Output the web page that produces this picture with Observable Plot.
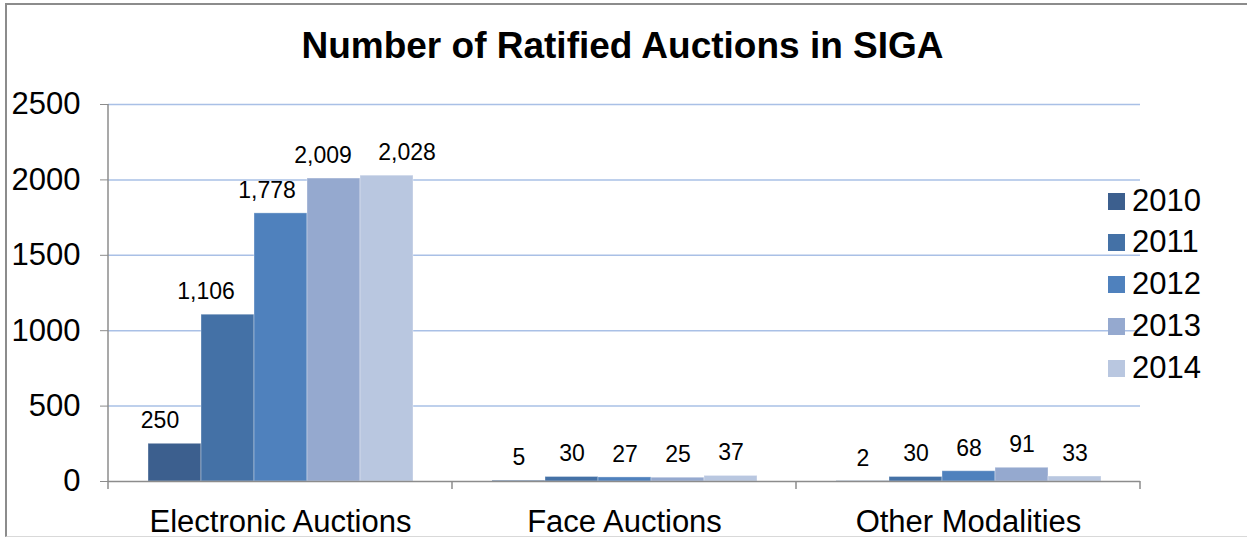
<!DOCTYPE html>
<html>
<head>
<meta charset="utf-8">
<script src="https://cdn.jsdelivr.net/npm/d3@7"></script>
<script src="https://cdn.jsdelivr.net/npm/@observablehq/plot@0.6"></script>
<style>
  html, body { margin: 0; padding: 0; background: #fff; }
  body { width: 1247px; height: 540px; overflow: hidden; position: relative; font-family: "Liberation Sans", Arial, sans-serif; }
  #frame { position: absolute; left: 5px; top: 3px; width: 1300px; height: 534px; border-left: 2px solid #8c8c8c; border-top: 2px solid #8c8c8c; border-bottom: 1px solid #d9d9d9; box-sizing: border-box; }
  #title { position: absolute; left: 0; top: 27px; width: 1245px; text-align: center; font-weight: bold; font-size: 37px; line-height: 37px; color: #000; }
  #chart { position: absolute; left: 0; top: 0; }
  #legend { position: absolute; left: 1108px; top: 0; }
  .item { position: absolute; left: 0; height: 34px; display: flex; align-items: center; white-space: nowrap; font-size: 31px; line-height: 34px; }
  .sw { width: 17px; height: 17px; margin-right: 7px; }
  [aria-label="y-axis tick"] { color: #8c8c8c; }
</style>
</head>
<body>
<div id="frame"></div>
<div id="chart"></div>
<div id="title">Number of Ratified Auctions in SIGA</div>
<div id="legend"></div>
<script>
const categories = ["Electronic Auctions", "Face Auctions", "Other Modalities"];
const years = ["2010", "2011", "2012", "2013", "2014"];
const electronicAuctions = [250, 1106, 1778, 2009, 2028];
const faceAuctions = [5, 30, 27, 25, 37];
const otherModalities = [2, 30, 68, 91, 33];
const yearColors = ["#3C5F8E", "#4471A6", "#4F81BD", "#95A9CF", "#B9C7E0"];
const yTicks = [0, 500, 1000, 1500, 2000, 2500];
// horizontal nudges of the crowded Electronic Auctions value labels (style, not data)
const electronicLabelNudge = [-15, -22, -14, -11, 20];

const seriesByCategory = [electronicAuctions, faceAuctions, otherModalities];
const rows = [];
categories.forEach((cat, i) => {
  years.forEach((yr, j) => rows.push({cat, year: yr, value: seriesByCategory[i][j]}));
});

const fmt = d3.format(",");
const labelOpts = {fx: "cat", x: "year", y: "value", text: d => fmt(d.value), dy: -23, fontSize: 23, lineAnchor: "middle", fill: "#000"};
const labelMarks = [
  Plot.text(rows.filter(d => d.cat !== categories[0]), labelOpts),
  ...years.map((yr, j) => Plot.text(rows.filter(d => d.cat === categories[0] && d.year === yr), {...labelOpts, dx: electronicLabelNudge[j]}))
];

const chart = Plot.plot({
  width: 1247,
  height: 540,
  marginTop: 104,
  marginBottom: 59,
  marginLeft: 108,
  marginRight: 107,
  style: {fontFamily: "'Liberation Sans', Arial, sans-serif", fontSize: "31px", color: "#000", background: "transparent", overflow: "visible"},
  fx: {domain: categories, padding: 0, label: null, axis: "bottom", tickSize: 0, tickPadding: 28},
  x: {domain: years, paddingInner: 0, paddingOuter: 0.745, axis: null},
  y: {domain: [0, 2500], ticks: yTicks, tickSize: 8, tickPadding: 20, label: null, tickFormat: d => String(d)},
  color: {domain: years, range: yearColors},
  marks: [
    Plot.ruleY(yTicks.filter(d => d > 0), {stroke: "#A9C0E6", strokeWidth: 1.5}),
    Plot.barY(rows, {fx: "cat", x: "year", y: "value", fill: "year", stroke: "#ffffff", strokeOpacity: 0.35, strokeWidth: 1}),
    ...labelMarks,
    Plot.ruleY([0], {stroke: "#8c8c8c", strokeWidth: 1.5})
  ]
});
document.getElementById("chart").appendChild(chart);

// axis line and category separator ticks, positioned from Plot's own scales
const fx = chart.scale("fx");
const ys = chart.scale("y");
const svg = d3.select(chart.tagName.toLowerCase() === "svg" ? chart : chart.querySelector("svg"));
const g = svg.append("g").attr("stroke", "#8c8c8c").attr("stroke-width", 1.5);
const y0 = ys.apply(0), yTop = ys.apply(2500);
const left = fx.apply(categories[0]);
g.append("line").attr("x1", left).attr("x2", left).attr("y1", yTop).attr("y2", y0 + 8);
const bw = fx.bandwidth;
categories.forEach(c => {
  const xr = fx.apply(c) + bw;
  g.append("line").attr("x1", xr).attr("x2", xr).attr("y1", y0).attr("y2", y0 + 8);
});

// legend
const legendRows = [201, 242, 284, 326, 368];
const legend = d3.select("#legend");
years.forEach((yr, i) => {
  const item = legend.append("div").attr("class", "item").style("top", (legendRows[i] - 17) + "px");
  item.append("div").attr("class", "sw").style("background", yearColors[i]);
  item.append("span").text(yr);
});
</script>
</body>
</html>
